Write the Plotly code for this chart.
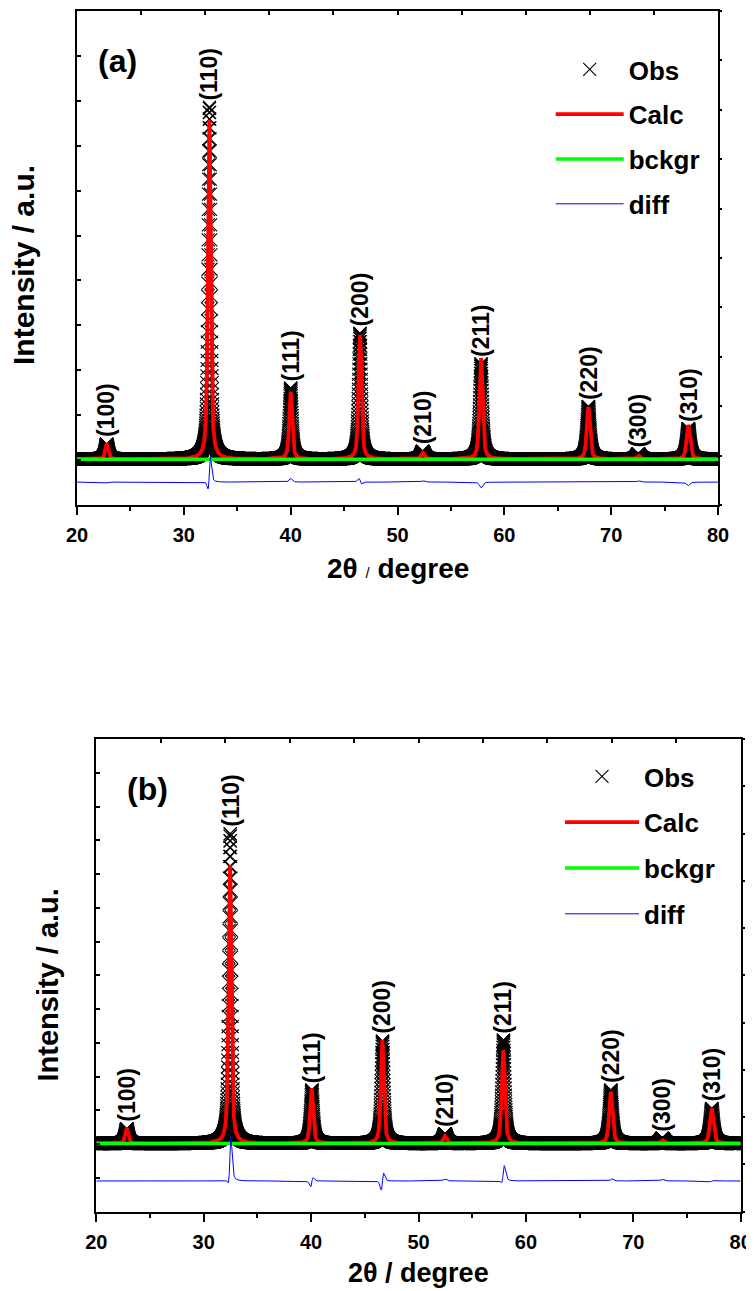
import numpy as np
import plotly.graph_objects as go

# ---------------- data ----------------
two_theta = np.round(np.arange(20.0, 80.0001, 0.01), 2)   # scan grid (deg)

hkl = ["(100)", "(110)", "(111)", "(200)", "(210)", "(211)", "(220)", "(300)", "(310)"]

# panel (a): intensities in a.u. (1 unit = one left tick interval)
a_pos_calc = [22.78, 32.39, 40.00, 46.49, 52.36, 57.82, 67.87, 72.54, 77.22]
a_pos_obs = [22.78, 32.40, 40.00, 46.485, 52.365, 57.82, 67.87, 72.545, 77.225]
a_h_calc = [0.35, 7.55, 1.50, 2.77, 0.14, 2.25, 1.16, 0.08, 0.76]
a_h_obs = [0.33, 7.84, 1.58, 2.80, 0.17, 2.12, 1.17, 0.11, 0.68]
a_fwhm = [0.32, 0.30, 0.32, 0.32, 0.36, 0.34, 0.36, 0.38, 0.38]
a_bckgr = 1.02
a_diff_offset = 0.51

# panel (b)
b_pos_calc = [22.83, 32.45, 40.05, 46.63, 52.46, 57.89, 67.90, 72.70, 77.30]
b_pos_obs = [22.83, 32.465, 40.07, 46.65, 52.46, 57.91, 67.905, 72.70, 77.305]
b_h_calc = [0.45, 8.24, 1.63, 3.06, 0.22, 2.76, 1.53, 0.10, 1.04]
b_h_obs = [0.43, 9.18, 1.58, 3.03, 0.28, 3.06, 1.58, 0.15, 1.03]
b_fwhm = [0.32, 0.30, 0.32, 0.32, 0.36, 0.34, 0.36, 0.38, 0.38]
b_bckgr = 2.02
b_diff_offset = 0.91

x_ticks_major = [20, 30, 40, 50, 60, 70, 80]


def profile(x, pos, h, fwhm, bg, eta=0.6):
    y = np.full_like(x, bg, dtype=float)
    for p, hh, w in zip(pos, h, fwhm):
        t = ((x - p) / (w / 2.0)) ** 2
        y += hh * (eta / (1.0 + t) + (1 - eta) * np.exp(-np.log(2) * t))
    return y


FONT = "Liberation Sans, Arial, sans-serif"
fig = go.Figure()

panels = [
    dict(pos_c=a_pos_calc, pos_o=a_pos_obs, hc=a_h_calc, ho=a_h_obs, w=a_fwhm,
         bg=a_bckgr, off=a_diff_offset, xa="x", ya="y", leg="legend"),
    dict(pos_c=b_pos_calc, pos_o=b_pos_obs, hc=b_h_calc, ho=b_h_obs, w=b_fwhm,
         bg=b_bckgr, off=b_diff_offset, xa="x2", ya="y2", leg="legend2"),
]

annotations = []
for k, P in enumerate(panels):
    calc = profile(two_theta, P["pos_c"], P["hc"], P["w"], P["bg"])
    obs = profile(two_theta, P["pos_o"], P["ho"], P["w"], P["bg"])
    diff = obs - calc + P["off"]
    bg = np.full_like(two_theta, P["bg"], dtype=float)
    fig.add_trace(go.Scatter(x=two_theta, y=obs, mode="markers", name="Obs",
                             marker=dict(symbol="x-thin", size=13, color="black",
                                         line=dict(width=1.1, color="black")),
                             xaxis=P["xa"], yaxis=P["ya"], legend=P["leg"],
                             legendgroup=f"obs{k}"))
    fig.add_trace(go.Scatter(x=two_theta, y=calc, mode="lines", name="Calc",
                             line=dict(color="#FF0000", width=3.8),
                             xaxis=P["xa"], yaxis=P["ya"], legend=P["leg"],
                             legendgroup=f"calc{k}"))
    fig.add_trace(go.Scatter(x=two_theta, y=bg, mode="lines", name="bckgr",
                             line=dict(color="#00FF00", width=3.5),
                             xaxis=P["xa"], yaxis=P["ya"], legend=P["leg"],
                             legendgroup=f"bg{k}"))
    fig.add_trace(go.Scatter(x=two_theta, y=diff, mode="lines", name="diff",
                             line=dict(color="#0000FF", width=1),
                             xaxis=P["xa"], yaxis=P["ya"], legend=P["leg"],
                             legendgroup=f"diff{k}"))
    for lab, p, hh in zip(hkl, P["pos_o"], P["ho"]):
        annotations.append(dict(x=p, y=P["bg"] + hh, xref=P["xa"], yref=P["ya"],
                                text=lab, textangle=-90, showarrow=False,
                                xanchor="center", yanchor="bottom", yshift=5,
                                font=dict(family=FONT, size=23, color="black", weight="bold")))

# invisible traces that carry the tick-only frame axes (top / right)
fig.add_trace(go.Scatter(x=[None], y=[None], xaxis="x3", yaxis="y3", showlegend=False,
                         hoverinfo="skip"))
fig.add_trace(go.Scatter(x=[None], y=[None], xaxis="x4", yaxis="y4", showlegend=False,
                         hoverinfo="skip"))

W, H = 754, 1291
OFF = 8  # page body margin of the html page
def fx(px): return (px - OFF) / W
def fy(py): return 1 - (py - OFF) / H

# panel boxes in page pixels
A = dict(l=77, r=718, t=11, b=505)
B = dict(l=96.3, r=740.7, t=739, b=1211.7)

tickfont = dict(family=FONT, size=20, color="black", weight="bold")

def xaxis_main(box, anchor):
    return dict(domain=[fx(box["l"]), fx(box["r"])], anchor=anchor, range=[20, 80],
                tickvals=x_ticks_major, ticks="outside", ticklen=8, tickwidth=2,
                tickcolor="black", showline=True, linewidth=2, linecolor="black",
                mirror=True,
                tickfont=tickfont, ticklabelstandoff=3, showgrid=False, zeroline=False,
                automargin=False,
                minor=dict(dtick=5, tick0=20, ticks="outside", ticklen=4, tickwidth=2,
                           tickcolor="black", showgrid=False))

def yaxis_main(box, anchor, top):
    return dict(domain=[fy(box["b"]), fy(box["t"])], anchor=anchor, range=[0, top],
                tick0=0, dtick=1, ticks="inside", ticklen=4, tickwidth=1.5,
                tickcolor="black", showticklabels=False, showline=True, linewidth=2,
                linecolor="black", mirror=True, showgrid=False, zeroline=False,
                automargin=False)

def frame_x(over, anchor):
    return dict(overlaying=over, anchor=anchor, side="top", range=[0, 10], dtick=1,
                ticks="inside", ticklen=4, tickwidth=1.5, tickcolor="black",
                showticklabels=False, showline=False,
                showgrid=False, zeroline=False, automargin=False)

def frame_y(over, anchor):
    return dict(overlaying=over, anchor=anchor, side="right", range=[0, 10], dtick=1,
                ticks="outside", ticklen=3, tickwidth=1.5, tickcolor="black",
                showticklabels=False, showline=False,
                showgrid=False, zeroline=False, automargin=False)

legfont = dict(family=FONT, size=26, color="black", weight="bold")

fig.update_layout(
    template="none",
    width=W, height=H, autosize=False,
    margin=dict(l=0, r=0, t=0, b=0, pad=0),
    paper_bgcolor="white", plot_bgcolor="white",
    showlegend=True,
    xaxis=xaxis_main(A, "y"),
    yaxis=yaxis_main(A, "x", 11),
    xaxis2=xaxis_main(B, "y2"),
    yaxis2=yaxis_main(B, "x2", 14),
    xaxis3=frame_x("x", "y"),
    yaxis3=frame_y("y", "x"),
    xaxis4=frame_x("x2", "y2"),
    yaxis4=frame_y("y2", "x2"),
    legend=dict(x=fx(550.7), y=fy(46), xanchor="left", yanchor="top", font=legfont,
                bgcolor="rgba(0,0,0,0)", borderwidth=0, itemwidth=68,
                tracegroupgap=8, traceorder="grouped"),
    legend2=dict(x=fx(560), y=fy(753), xanchor="left", yanchor="top", font=legfont,
                 bgcolor="rgba(0,0,0,0)", borderwidth=0, itemwidth=74,
                 tracegroupgap=9, traceorder="grouped"),
)

bold = dict(family=FONT, color="black", weight="bold")
annotations += [
    dict(text="(a)", x=fx(117), y=fy(61), xref="paper", yref="paper", showarrow=False,
         xanchor="center", yanchor="middle", font=dict(bold, size=32)),
    dict(text="(b)", x=fx(147), y=fy(789), xref="paper", yref="paper", showarrow=False,
         xanchor="center", yanchor="middle", font=dict(bold, size=32)),
    dict(text='2θ <span style="font-size:15px;font-weight:normal">/</span> degree',
         x=fx((A["l"] + A["r"]) / 2), y=fy(568), xref="paper", yref="paper",
         showarrow=False, xanchor="center", yanchor="middle", font=dict(bold, size=28)),
    dict(text="2θ / degree", x=fx((B["l"] + B["r"]) / 2), y=fy(1273), xref="paper",
         yref="paper", showarrow=False, xanchor="center", yanchor="middle",
         font=dict(bold, size=27)),
    dict(text="Intensity / a.u.", x=fx(24), y=fy(265), xref="paper", yref="paper",
         showarrow=False, textangle=-90, xanchor="center", yanchor="middle",
         font=dict(bold, size=30)),
    dict(text="Intensity / a.u.", x=fx(47.5), y=fy(985), xref="paper", yref="paper",
         showarrow=False, textangle=-90, xanchor="center", yanchor="middle",
         font=dict(bold, size=29)),
]
fig.update_layout(annotations=annotations)

fig.write_html("out.html")
